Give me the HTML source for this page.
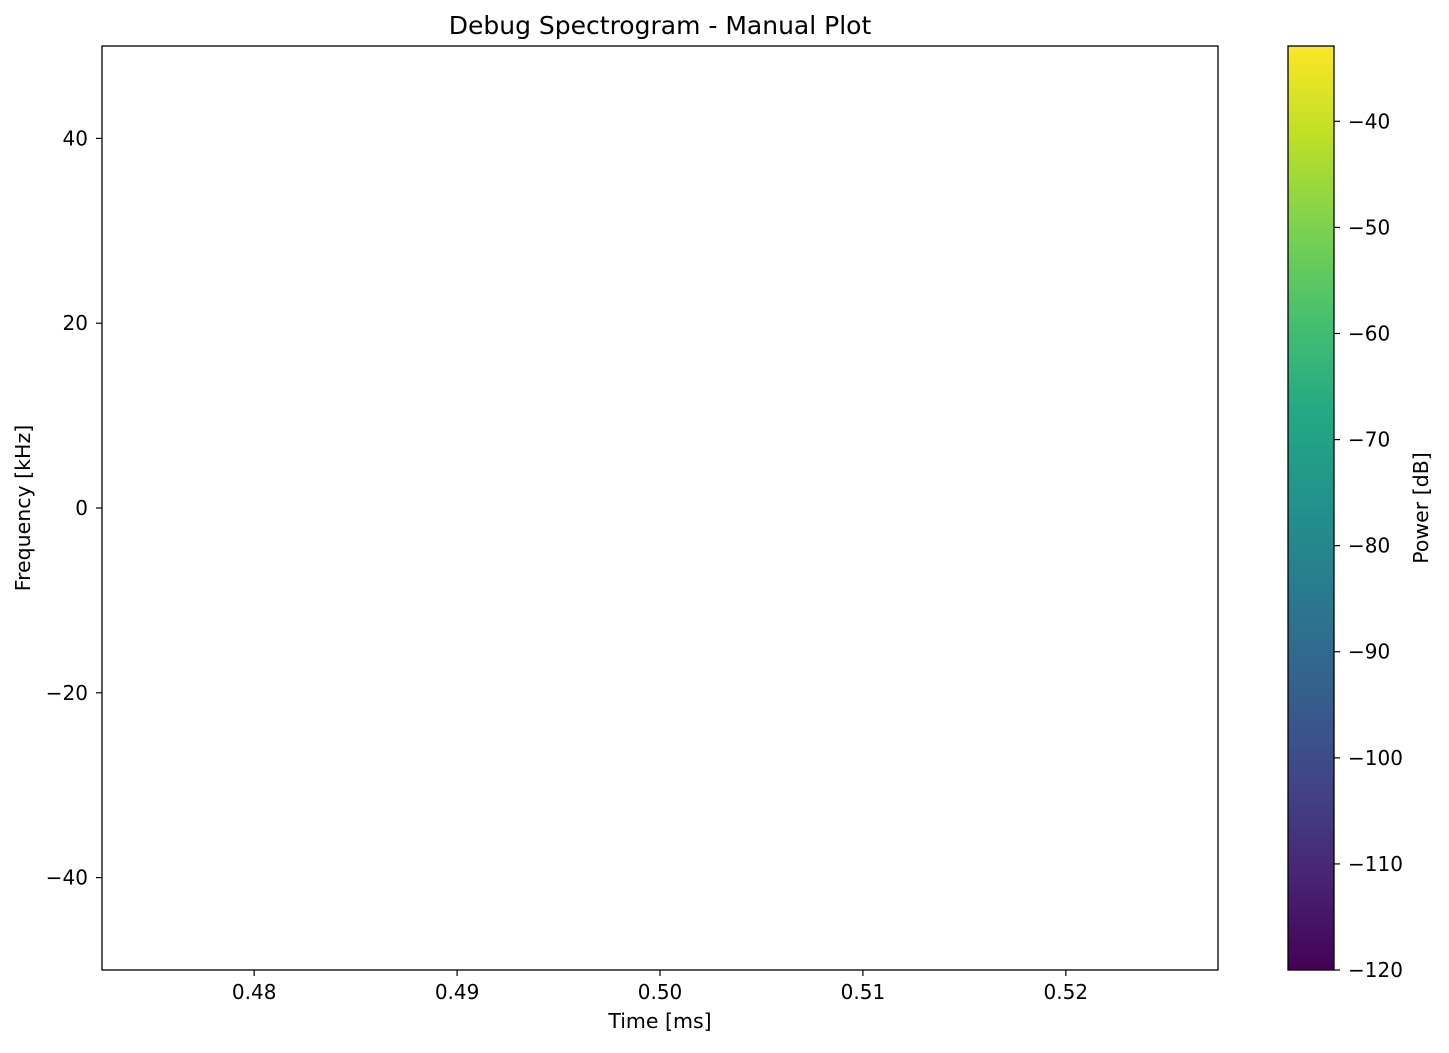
<!DOCTYPE html>
<html><head><meta charset="utf-8"><style>
body{margin:0;background:#fff;}
svg text{font-family:"DejaVu Sans","Liberation Sans",sans-serif;fill:#000;}
</style></head><body>
<svg id="chart" width="1449" height="1048" xmlns="http://www.w3.org/2000/svg">
<defs>
<linearGradient id="viridis" x1="0" y1="1" x2="0" y2="0">
<stop offset="0" stop-color="#440154"/><stop offset="0.1" stop-color="#482475"/><stop offset="0.2" stop-color="#414487"/><stop offset="0.3" stop-color="#355f8d"/><stop offset="0.4" stop-color="#2a788e"/><stop offset="0.5" stop-color="#21918c"/><stop offset="0.6" stop-color="#22a884"/><stop offset="0.7" stop-color="#44bf70"/><stop offset="0.8" stop-color="#7ad151"/><stop offset="0.9" stop-color="#bddf26"/><stop offset="1" stop-color="#fde725"/>
</linearGradient>
</defs>
<text x="660" y="34" font-size="25" text-anchor="middle">Debug Spectrogram - Manual Plot</text>
<rect x="102" y="46" width="1116" height="924" fill="none" stroke="#000" stroke-width="1.3"/>
<g id="xticks"></g><g id="yticks"></g>
<text x="660" y="1028" font-size="20.5" text-anchor="middle">Time [ms]</text>
<text transform="translate(30,508) rotate(-90)" font-size="20.5" text-anchor="middle">Frequency [kHz]</text>
<rect x="1288" y="46" width="46" height="924" fill="url(#viridis)" stroke="#000" stroke-width="1.3"/>
<g id="cticks"></g>
<text transform="translate(1428,508) rotate(-90)" font-size="20.5" text-anchor="middle">Power [dB]</text>
</svg>
<script>
const xTicks=[0.48,0.49,0.50,0.51,0.52];
const xLabels=["0.48","0.49","0.50","0.51","0.52"];
const yTicks=[40,20,0,-20,-40];
const yLabels=["40","20","0","\u221220","\u221240"];
const cTicks=[-40,-50,-60,-70,-80,-90,-100,-110,-120];
const cLabels=["\u221240","\u221250","\u221260","\u221270","\u221280","\u221290","\u2212100","\u2212110","\u2212120"];
const NS="http://www.w3.org/2000/svg";
const xs=v=>102+(v-0.4725)/0.055*1116;
const ys=v=>970-(v+50)/100*924;
const cs=v=>970-(v+120)/87.1*924;
function mk(t,a,p){const e=document.createElementNS(NS,t);for(const k in a)e.setAttribute(k,a[k]);p.appendChild(e);return e;}
const gx=document.getElementById('xticks');
xTicks.forEach((v,i)=>{const x=xs(v);
const l=mk('line',{x1:x,x2:x,y1:970,y2:976,stroke:'#000','stroke-width':1.2},gx);


const t=mk('text',{x:x,y:999,'font-size':20,'text-anchor':'middle'},gx);t.textContent=xLabels[i];

});
const gy=document.getElementById('yticks');
yTicks.forEach((v,i)=>{const y=ys(v);
const l=mk('line',{x1:96,x2:102,y1:y,y2:y,stroke:'#000','stroke-width':1.2},gy);


const t=mk('text',{x:88,y:y+7,'font-size':20,'text-anchor':'end'},gy);t.textContent=yLabels[i];

});
const gc=document.getElementById('cticks');
cTicks.forEach((v,i)=>{const y=cs(v);
const l=mk('line',{x1:1334,x2:1340,y1:y,y2:y,stroke:'#000','stroke-width':1.2},gc);


const t=mk('text',{x:1348,y:y+7,'font-size':20},gc);t.textContent=cLabels[i];

});
</script>
</body></html>
